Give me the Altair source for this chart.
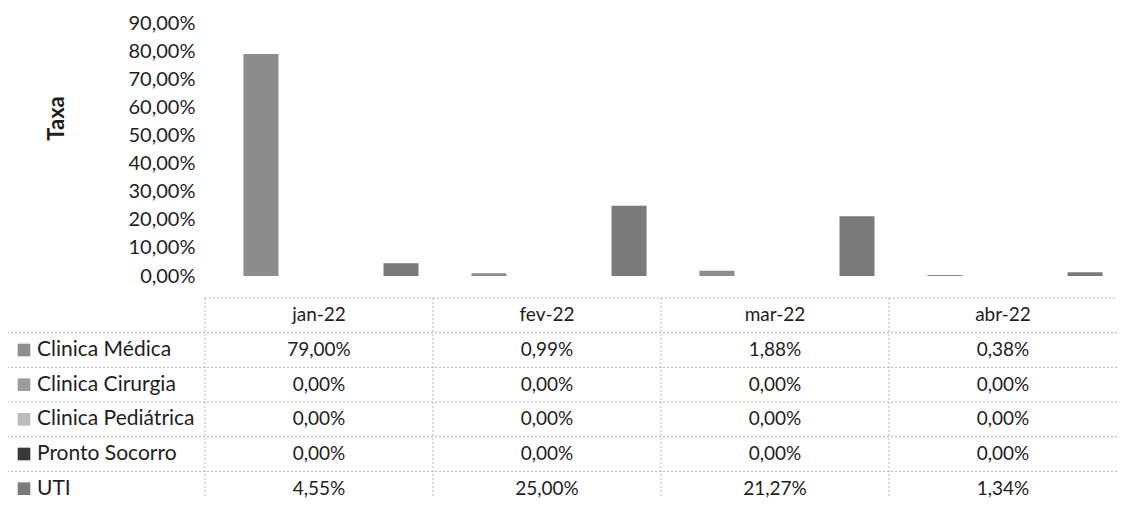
import altair as alt
import pandas as pd

months = ["jan-22", "fev-22", "mar-22", "abr-22"]
series = ["Clinica Médica", "Clinica Cirurgia", "Clinica Pediátrica", "Pronto Socorro", "UTI"]
clinica_medica = [0.79, 0.0099, 0.0188, 0.0038]
clinica_cirurgia = [0.0, 0.0, 0.0, 0.0]
clinica_pediatrica = [0.0, 0.0, 0.0, 0.0]
pronto_socorro = [0.0, 0.0, 0.0, 0.0]
uti = [0.0455, 0.25, 0.2127, 0.0134]
y_ticks = [0.0, 0.1, 0.2, 0.3, 0.4, 0.5, 0.6, 0.7, 0.8, 0.9]

greys = ["#8d8d8d", "#9c9c9c", "#bdbdbd", "#3a3a3a", "#7b7b7b"]

rows = []
for s, vals in zip(series, [clinica_medica, clinica_cirurgia, clinica_pediatrica, pronto_socorro, uti]):
    for m, v in zip(months, vals):
        rows.append({"series": s, "row": s, "month": m, "value": v})
df = pd.DataFrame(rows)
hdr = pd.DataFrame({"month": months, "row": ["hdr"] * len(months)})
labels = pd.DataFrame({"row": series})
hlines = pd.DataFrame({"row": series})

FONT = "Lato"
TXT = "#1e1e1e"
GRID = "#b4b4b4"
W, H = 912, 253
T0, T1 = 275, 483

color_scale = alt.Scale(domain=series, range=greys)

bars = alt.Chart(df).mark_bar().encode(
    x=alt.X("month:N", sort=months,
            scale=alt.Scale(domain=months, range=[12, W + 12], paddingInner=0.232, paddingOuter=0.116),
            axis=None),
    xOffset=alt.XOffset("series:N", sort=series,
                        scale=alt.Scale(domain=series, paddingInner=0, paddingOuter=0)),
    y=alt.Y("value:Q", scale=alt.Scale(domain=[0, 0.9], nice=False),
            axis=alt.Axis(values=y_ticks, labelExpr="replace(format(datum.value, '.2%'), '.', ',')",
                          title="Taxa", titleAngle=270, titleX=-149, titleY=95,
                          titleBaseline="middle", titleAlign="center",
                          domain=False, ticks=False, grid=False, labelPadding=10)),
    color=alt.Color("series:N", scale=color_scale, legend=None),
)

tx = alt.Scale(domain=months, range=[0, W], paddingInner=0, paddingOuter=0)
ty = alt.Scale(domain=["hdr"] + series, range=[T0, T1], paddingInner=0, paddingOuter=0)

rule_style = dict(color=GRID, strokeDash=[2, 2], strokeWidth=1)

h_rows = alt.Chart(hlines).mark_rule(**rule_style).encode(
    y=alt.Y("row:N", scale=ty, axis=None, bandPosition=0),
    x=alt.value(-198), x2=alt.value(W),
)
h_top = alt.Chart(hdr.head(1)).mark_rule(**rule_style).encode(
    y=alt.Y("row:N", scale=ty, axis=None, bandPosition=0),
    x=alt.value(0), x2=alt.value(W),
)
h_bottom = alt.Chart(labels.tail(1)).mark_rule(**rule_style).encode(
    y=alt.Y("row:N", scale=ty, axis=None, bandPosition=1),
    x=alt.value(-198), x2=alt.value(W),
)
v_cols = alt.Chart(hdr).mark_rule(**rule_style).encode(
    x=alt.X("month:N", scale=tx, axis=None, bandPosition=0),
    y=alt.value(T0), y2=alt.value(T1),
)
v_left = alt.Chart(labels.head(1)).mark_rule(**rule_style).encode(
    x=alt.value(-198),
    y=alt.Y("row:N", scale=ty, axis=None, bandPosition=0),
    y2=alt.value(T1),
)

header_text = alt.Chart(hdr).mark_text(font=FONT, fontSize=19, color=TXT, baseline="middle").encode(
    x=alt.X("month:N", scale=tx, axis=None, bandPosition=0.5),
    y=alt.Y("row:N", scale=ty, axis=None, bandPosition=0.5),
    text="month:N",
)
cell_text = alt.Chart(df).transform_calculate(
    label="replace(format(datum.value, '.2%'), '.', ',')"
).mark_text(font=FONT, fontSize=19, color=TXT, baseline="middle").encode(
    x=alt.X("month:N", scale=tx, axis=None, bandPosition=0.5),
    y=alt.Y("row:N", scale=ty, axis=None, bandPosition=0.5),
    text="label:N",
)
row_labels = alt.Chart(labels).mark_text(font=FONT, fontSize=21, color=TXT, baseline="middle", align="left").encode(
    x=alt.value(-168),
    y=alt.Y("row:N", scale=ty, axis=None, bandPosition=0.5),
    text="row:N",
)
squares = alt.Chart(labels).mark_square(size=160, opacity=1).encode(
    x=alt.value(-181),
    y=alt.Y("row:N", scale=ty, axis=None, bandPosition=0.5),
    color=alt.Color("row:N", scale=color_scale, legend=None),
)

table = alt.layer(h_rows, h_top, h_bottom, v_cols, v_left, header_text, cell_text, row_labels, squares)

chart = alt.layer(bars, table).resolve_scale(x="independent", y="independent").properties(
    width=W, height=H,
    autosize=alt.AutoSizeParams(type="none"),
    padding={"left": 197, "top": 15, "right": 5, "bottom": 222},
).configure_view(stroke=None).configure_axis(
    labelFont=FONT, labelFontSize=20, labelColor=TXT,
    titleFont=FONT, titleFontSize=22, titleColor=TXT, titleFontWeight="bold",
)

chart.save("out.html", embed_options={"renderer": "svg", "actions": False})
